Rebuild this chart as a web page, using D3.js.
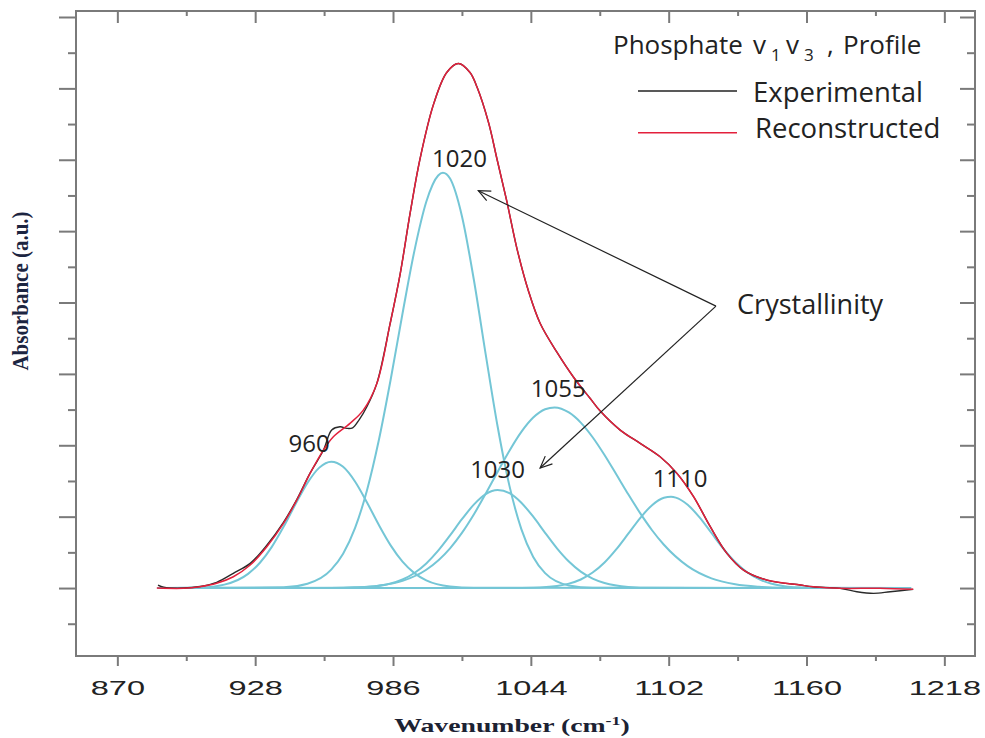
<!DOCTYPE html>
<html>
<head>
<meta charset="utf-8">
<script src="https://cdn.jsdelivr.net/npm/d3@7"></script>
<style>
  body { margin: 0; background: #fff; }
  text { white-space: pre; }
</style>
</head>
<body>
<svg id="chart" width="985" height="738"></svg>
<script>
// tick values
var xTicks = [870, 928, 986, 1044, 1102, 1160, 1218];
var xMinor = [899, 957, 1015, 1073, 1131, 1189];
var yTicks = [0, 1, 2, 3, 4, 5, 6, 7, 8];
var yMinor = [-0.5, 0.5, 1.5, 2.5, 3.5, 4.5, 5.5, 6.5, 7.5];

// measured spectrum [wavenumber, absorbance]
var experimental = [[887.1,0.042],[889.5,0.012],[897.8,0],[904.8,0.022],[911.8,0.08],[918.8,0.206],[925.9,0.346],[932.9,0.6],[939.9,0.92],[945.5,1.24],[951.1,1.61],[956.7,1.93],[960.2,2.213],[963.7,2.259],[966.6,2.237],[969.0,2.245],[971.8,2.36],[975.0,2.539],[979.2,2.867],[984.8,3.707],[989.0,4.398],[993.2,5.252],[997.4,6.018],[1003.0,6.772],[1008.6,7.223],[1013.5,7.349],[1018.4,7.223],[1021.3,7.022],[1026.2,6.521],[1029.7,6.018],[1033.9,5.416],[1038.1,4.763],[1043.0,4.161],[1047.9,3.709],[1054.9,3.308],[1061.9,2.957],[1069.0,2.655],[1073.2,2.479],[1081.6,2.213],[1090.0,2.027],[1098.4,1.839],[1105.5,1.606],[1112.5,1.279],[1119.5,0.859],[1126.5,0.486],[1133.5,0.252],[1143.3,0.112],[1157.4,0.042],[1162.8,0.018],[1174.1,-0.004],[1181.2,-0.052],[1188.2,-0.074],[1195.2,-0.052],[1204.9,-0.018]];

// fitted sum
var reconstructed = [[886.6,0],[897.8,-0.004],[904.8,0.018],[911.8,0.066],[918.8,0.158],[925.9,0.322],[932.9,0.578],[939.9,0.906],[945.5,1.232],[951.1,1.606],[956.7,1.933],[960.9,2.119],[967.9,2.307],[973.5,2.493],[979.2,2.867],[984.8,3.707],[989.0,4.398],[993.2,5.252],[997.4,6.018],[1003.0,6.772],[1008.6,7.223],[1013.5,7.349],[1018.4,7.223],[1021.3,7.022],[1026.2,6.521],[1029.7,6.018],[1033.9,5.416],[1038.1,4.763],[1043.0,4.161],[1047.9,3.709],[1054.9,3.308],[1061.9,2.957],[1069.0,2.655],[1073.2,2.479],[1081.6,2.213],[1090.0,2.027],[1098.4,1.839],[1105.5,1.606],[1112.5,1.279],[1119.5,0.859],[1126.5,0.486],[1133.5,0.252],[1143.3,0.112],[1157.4,0.042],[1162.8,0.018],[1174.1,-0.004],[1190.9,-0.004],[1204.9,-0.018]];

// component bands
var band960 = [[887,0],[905,0.008],[915,0.048],[925,0.199],[930,0.354],[935,0.577],[940,0.861],[945,1.177],[950,1.473],[955,1.687],[960,1.769],[965,1.698],[970,1.493],[975,1.202],[980,0.886],[985,0.598],[990,0.370],[995,0.209],[1000,0.108],[1010,0.022],[1020,0.003],[1204,0]];
var band1020 = [[887,0],[940,0.010],[950,0.060],[960,0.257],[965,0.481],[970,0.839],[975,1.363],[980,2.066],[985,2.918],[990,3.846],[995,4.724],[1000,5.411],[1005,5.779],[1007,5.818],[1010,5.736],[1015,5.210],[1020,4.322],[1025,3.274],[1030,2.266],[1035,1.431],[1040,0.826],[1045,0.436],[1050,0.209],[1060,0.037],[1070,0.003],[1204,0]];
var band1030 = [[887,0],[965,0.003],[975,0.014],[985,0.063],[990,0.120],[995,0.211],[1000,0.345],[1005,0.524],[1010,0.738],[1015,0.964],[1020,1.168],[1025,1.315],[1030,1.372],[1035,1.330],[1040,1.196],[1045,0.999],[1050,0.774],[1055,0.556],[1060,0.371],[1065,0.230],[1070,0.132],[1075,0.070],[1085,0.016],[1095,0.003],[1204,0]];
var band1055 = [[887,0],[960,0.002],[970,0.010],[980,0.034],[990,0.100],[1000,0.256],[1010,0.557],[1015,0.773],[1020,1.031],[1025,1.321],[1030,1.627],[1035,1.924],[1040,2.187],[1045,2.388],[1050,2.505],[1054,2.530],[1060,2.460],[1065,2.318],[1070,2.113],[1075,1.864],[1080,1.590],[1085,1.313],[1090,1.049],[1095,0.810],[1100,0.606],[1110,0.307],[1120,0.136],[1130,0.053],[1140,0.018],[1150,0.005],[1204,0]];
var band1110 = [[887,0],[1035,0.001],[1045,0.005],[1055,0.029],[1060,0.062],[1065,0.120],[1070,0.217],[1075,0.358],[1080,0.545],[1085,0.762],[1090,0.981],[1095,1.161],[1100,1.265],[1103,1.279],[1105,1.267],[1110,1.167],[1115,0.989],[1120,0.771],[1125,0.553],[1130,0.365],[1135,0.221],[1140,0.124],[1145,0.063],[1150,0.030],[1160,0.005],[1170,0.001],[1204,0]];

var bands = [band960, band1020, band1030, band1055, band1110];
var bandNames = ["960", "1020", "1030", "1055", "1110"];

var svg = d3.select("#chart");
var axisColor = "#7a7a7a";
var cyan = "#74c6d6";

var x = d3.scaleLinear().domain([852.6, 1230.9]).range([76, 975]);
var y = d3.scaleLinear().domain([-0.952, 8.084]).range([656, 11]);

svg.append("rect").attr("width", 985).attr("height", 738).attr("fill", "#fff");

// axes
function addAxis(axis, tx, ty) {
  var g = svg.append("g")
    .attr("transform", "translate(" + tx + "," + ty + ")")
    .call(axis);
  g.select(".domain").remove();
  g.selectAll("line").attr("stroke", axisColor).attr("stroke-width", 2);
  return g;
}

var bottom = addAxis(d3.axisBottom(x).tickValues(xTicks).tickSize(10).tickFormat(d3.format("d")), 0, 656);
addAxis(d3.axisBottom(x).tickValues(xMinor).tickSize(5).tickFormat(""), 0, 656);
addAxis(d3.axisTop(x).tickValues(xTicks).tickSize(-12).tickFormat(""), 0, 11);
addAxis(d3.axisTop(x).tickValues(xMinor).tickSize(-5).tickFormat(""), 0, 11);
addAxis(d3.axisLeft(y).tickValues(yTicks).tickSize(17).tickFormat(""), 76, 0);
addAxis(d3.axisLeft(y).tickValues(yMinor).tickSize(8).tickFormat(""), 76, 0);
addAxis(d3.axisRight(y).tickValues(yTicks).tickSize(-15).tickFormat(""), 975, 0);
addAxis(d3.axisRight(y).tickValues(yMinor).tickSize(-8).tickFormat(""), 975, 0);

bottom.selectAll("text")
  .attr("y", 39)
  .attr("dy", 0)
  .attr("fill", "#222")
  .attr("transform", "scale(1.55,1)")
  .style("font-family", "'Liberation Sans', Arial, sans-serif")
  .style("font-size", "21px");

svg.append("rect")
  .attr("x", 76).attr("y", 11)
  .attr("width", 899).attr("height", 645)
  .attr("fill", "none")
  .attr("stroke", axisColor)
  .attr("stroke-width", 2);

// axis titles
var xt = svg.append("text")
  .attr("transform", "translate(512,732) scale(1.5,1)")
  .attr("text-anchor", "middle")
  .attr("fill", "#1c2233")
  .style("font-family", "'Liberation Serif', 'Times New Roman', serif")
  .style("font-weight", "bold")
  .style("font-size", "18.5px");
xt.append("tspan").text("Wavenumber (cm");
xt.append("tspan").attr("dy", -7).style("font-size", "12px").text("-1");
xt.append("tspan").attr("dy", 7).text(")");

svg.append("text")
  .attr("transform", "translate(28,291) rotate(-90) scale(1.05,1.15)")
  .attr("text-anchor", "middle")
  .attr("fill", "#1c2541")
  .style("font-family", "'Liberation Serif', 'Times New Roman', serif")
  .style("font-weight", "bold")
  .style("font-size", "20px")
  .text("Absorbance (a.u.)");

// curves
var bandLine = d3.line()
  .x(d => x(d[0]))
  .y(d => y(d[1]))
  .curve(d3.curveMonotoneX);

var specLine = d3.line()
  .x(d => x(d[0]))
  .y(d => y(d[1]))
  .curve(d3.curveCatmullRom.alpha(0.5));

svg.append("g").selectAll("path")
  .data(bands)
  .enter()
  .append("path")
  .attr("class", (d, i) => "band-" + bandNames[i])
  .attr("d", bandLine)
  .attr("fill", "none")
  .attr("stroke", cyan)
  .attr("stroke-width", 2);

svg.append("path")
  .datum(experimental)
  .attr("d", specLine)
  .attr("fill", "none")
  .attr("stroke", "#2a2a2a")
  .attr("stroke-width", 1.4);

svg.append("path")
  .datum(reconstructed)
  .attr("d", specLine)
  .attr("fill", "none")
  .attr("stroke", "#e3203c")
  .attr("stroke-width", 1.5);

// peak labels
var labelPos = [[950.7, 1.905], [1014.0, 5.896], [1030.0, 1.541], [1055.5, 2.681], [1106.8, 1.419]];
svg.append("g").selectAll("text")
  .data(bandNames)
  .enter()
  .append("text")
  .attr("x", (d, i) => x(labelPos[i][0]))
  .attr("y", (d, i) => y(labelPos[i][1]))
  .attr("text-anchor", "middle")
  .attr("fill", "#222")
  .style("font-family", "'Open Sans', sans-serif")
  .style("font-size", "24px")
  .text(d => d);

// crystallinity annotation
var from = [x(1121.9), y(3.950)];
var tips = [[x(1021.9), y(5.567)], [x(1047.9), y(1.681)]];
tips.forEach(function(t) {
  svg.append("line")
    .attr("x1", from[0]).attr("y1", from[1])
    .attr("x2", t[0]).attr("y2", t[1])
    .attr("stroke", "#222").attr("stroke-width", 1.2);
  var a = Math.atan2(from[1] - t[1], from[0] - t[0]);
  var len = 13, spread = 0.42;
  var p1 = [t[0] + len * Math.cos(a - spread), t[1] + len * Math.sin(a - spread)];
  var p2 = [t[0] + len * Math.cos(a + spread), t[1] + len * Math.sin(a + spread)];
  svg.append("path")
    .attr("d", "M" + p1 + "L" + t + "L" + p2)
    .attr("fill", "none")
    .attr("stroke", "#222").attr("stroke-width", 1.2);
});

svg.append("text")
  .attr("x", x(1130.8)).attr("y", y(3.838))
  .attr("fill", "#222")
  .style("font-family", "'Open Sans', sans-serif")
  .style("font-size", "27px")
  .text("Crystallinity");

// legend
var lg = svg.append("g")
  .style("font-family", "'Open Sans', sans-serif")
  .attr("fill", "#222");

var title = lg.append("text").attr("y", 54).style("font-size", "26px");
title.append("tspan").attr("x", 613).text("Phosphate");
title.append("tspan").attr("x", 753).text("v");
title.append("tspan").attr("x", 771).attr("dy", 7).style("font-size", "17px").text("1");
title.append("tspan").attr("x", 786).attr("dy", -7).text("v");
title.append("tspan").attr("x", 804).attr("dy", 7).style("font-size", "17px").text("3");
title.append("tspan").attr("x", 827).attr("dy", -7).text(",");
title.append("tspan").attr("x", 843).text("Profile");

lg.append("line")
  .attr("x1", 638).attr("x2", 737).attr("y1", 91).attr("y2", 91)
  .attr("stroke", "#222").attr("stroke-width", 1.3);
lg.append("text").attr("x", 753).attr("y", 102).style("font-size", "27.5px").text("Experimental");

lg.append("line")
  .attr("x1", 638).attr("x2", 737).attr("y1", 132.7).attr("y2", 132.7)
  .attr("stroke", "#e3203c").attr("stroke-width", 1.5);
lg.append("text").attr("x", 755).attr("y", 138).style("font-size", "27.5px").text("Reconstructed");
</script>
</body>
</html>
